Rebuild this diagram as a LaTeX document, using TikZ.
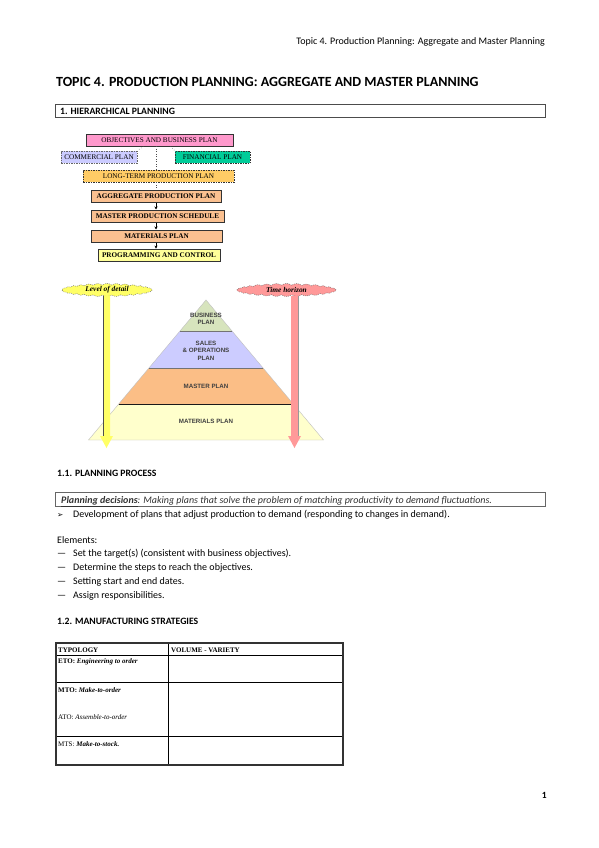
\documentclass[tikz,border=0pt]{standalone}
\usepackage{fontspec}
\setmainfont{Carlito}
\newfontfamily\tms{Liberation Serif}
\newfontfamily\arl{Liberation Sans}
\newfontfamily\djv{DejaVu Sans}
\usetikzlibrary{shapes.symbols,arrows.meta,calc}
\definecolor{objpink}{HTML}{FF99CC}
\definecolor{comlav}{HTML}{CCCCFF}
\definecolor{finteal}{HTML}{00CC99}
\definecolor{ltorange}{HTML}{FFCC66}
\definecolor{peach}{HTML}{FAC090}
\definecolor{progyel}{HTML}{FFFF99}
\definecolor{pygreen}{HTML}{D7E4BD}
\definecolor{pylav}{HTML}{CCCCFF}
\definecolor{pyorange}{HTML}{FBBE86}
\definecolor{pyyel}{HTML}{FFFFCC}
\definecolor{cloudyel}{HTML}{FFFF66}
\definecolor{cloudpink}{HTML}{FF9999}
\tikzset{
  chartbox/.style={draw=black!80, line width=0.6pt, inner sep=0pt, minimum height=12pt,
    font=\tms\fontsize{7.2}{8}\selectfont},
  dashbox/.style={chartbox, dashed, dash pattern=on 1.5pt off 1pt, line width=0.8pt},
  boldbox/.style={chartbox, line width=1pt, fill=peach, font=\tms\bfseries\fontsize{7.2}{8}\selectfont},
  pylabel/.style={font=\arl\bfseries\fontsize{6.2}{7.6}\selectfont, text=black!75, align=center},
  cloudnode/.style={cloud, cloud puffs=30, cloud puff arc=75, aspect=7, inner sep=0pt,
    draw=black!60, dashed, dash pattern=on 1pt off 1pt, font=\tms\bfseries\itshape\fontsize{7.4}{8}\selectfont},
  bodytext/.style={anchor=base west, inner sep=0pt, font=\fontsize{10}{12}\selectfont},
  headtext/.style={anchor=base west, inner sep=0pt, font=\bfseries\fontsize{9.7}{11}\selectfont},
  tabtext/.style={anchor=base west, inner sep=0pt, font=\tms\fontsize{7}{8}\selectfont},
  secbox/.style={draw=black!70, line width=0.7pt, anchor=north west, inner sep=0pt},
  flowarrow/.style={-{Stealth[length=3pt,width=3pt]}, line width=0.5pt},
  dotline/.style={dotted, line width=0.5pt, black!70}
}
\begin{document}
\begin{tikzpicture}[x=1pt,y=-1pt]
\useasboundingbox (0,0) rectangle (599,848);
\fill[white] (0,0) rectangle (599,848);

% header
\node[anchor=base east, inner sep=0pt, font=\fontsize{10}{12}\selectfont] (hdr) at (545,45)
  {Topic 4. Production Planning: Aggregate and Master Planning};
\node[anchor=base west, inner sep=0pt, font=\bfseries\fontsize{14}{16}\selectfont] (title) at (56,87)
  {TOPIC 4. PRODUCTION PLANNING: AGGREGATE AND MASTER PLANNING};

% section box 1
\node[secbox, minimum width=490pt, minimum height=13pt] (sec1) at (55,104) {};
\node[headtext] (sec1t) at (60,114.5) {1. HIERARCHICAL PLANNING};

% hierarchy chart
\node[chartbox, fill=objpink, minimum width=147pt] (obj) at (159.5,140) {OBJECTIVES AND BUSINESS PLAN};
\node[dashbox, fill=comlav, draw=black!60, minimum width=76pt] (com) at (99,157) {COMMERCIAL PLAN};
\node[dashbox, fill=finteal, minimum width=75pt] (fin) at (212.5,157) {FINANCIAL PLAN};
\node[dashbox, fill=ltorange, minimum width=151pt] (lt) at (158.5,176) {LONG-TERM PRODUCTION PLAN};
\node[boldbox, minimum width=130pt] (agg) at (156,196) {AGGREGATE PRODUCTION PLAN};
\node[boldbox, minimum width=133pt] (mps) at (157.5,216) {MASTER PRODUCTION SCHEDULE};
\node[boldbox, minimum width=131pt] (mat) at (156.5,236) {MATERIALS PLAN};
\node[chartbox, fill=progyel, line width=0.8pt, font=\tms\bfseries\fontsize{7.2}{8}\selectfont, minimum width=122pt] (prog) at (159,255) {PROGRAMMING AND CONTROL};

\draw[dotline] ($(obj.south)+(-16,0)$) -- (com.north east);
\draw[dotline] ($(obj.south)+(11,0)$) -- (fin.north west);
\draw[dotline] (obj.south -| agg.north) -- (lt.north -| agg.north);
\draw[dotline] (lt.south -| agg.north) -- (agg.north);
\draw[flowarrow] (agg.south) -- (mps.north -| agg.south);
\draw[flowarrow] (mps.south -| agg.south) -- (mat.north -| agg.south);
\draw[flowarrow] (mat.south -| agg.south) -- (prog.north -| agg.south);

% pyramid
\fill[pygreen] (206,300) -- (232,331) -- (180,331) -- cycle;
\fill[pylav] (180,331) -- (232,331) -- (263,368) -- (149,368) -- cycle;
\fill[pyorange] (149,368) -- (263,368) -- (293.3,404) -- (118.7,404) -- cycle;
\fill[pyyel] (118.7,404) -- (293.3,404) -- (323.5,440) -- (88.5,440) -- cycle;
\draw[black!25, line width=0.4pt] (206,300) -- (323.5,440) -- (88.5,440) -- cycle;
\draw[black!55, line width=0.5pt] (180,331) -- (232,331);
\draw[black!55, line width=0.5pt] (149,368) -- (263,368);
\draw[black!90, line width=0.8pt] (118.7,404) -- (293.3,404);
\node[pylabel] (pb) at (206,319) {BUSINESS\\PLAN};
\node[pylabel] (ps) at (206,350.5) {SALES\\\& OPERATIONS\\PLAN};
\node[pylabel] (pm) at (206,386.5) {MASTER PLAN};
\node[pylabel] (pt) at (206,421.5) {MATERIALS PLAN};

% clouds and arrows
\node[cloudnode, fill=cloudyel, minimum width=90pt, minimum height=13pt] (cy) at (107,290) {Level of detail};
\node[cloudnode, fill=cloudpink, minimum width=99pt, minimum height=13pt] (cp) at (286.5,290) {Time horizon};
\coordinate (cyend) at (106.5,448);
\coordinate (cpend) at (294.5,448);
\fill[cloudyel] (103,296) -- (110,296) -- (110,436) -- (113,436) -- (106.5,448) -- (100,436) -- (103,436) -- cycle;
\draw[black!70, line width=0.6pt] (103,296) -- (103,436);
\fill[cloudpink] (291,296) -- (298,296) -- (298,436) -- (301,436) -- (294.5,448) -- (288,436) -- (291,436) -- cycle;
\draw[black!40, line width=0.4pt] (298,296) -- (298,436);

% 1.1
\node[headtext] (s11) at (57,476) {1.1. PLANNING PROCESS};
\node[secbox, minimum width=490pt, minimum height=14pt, draw=black!60] (pdbox) at (55,492) {};
\node[bodytext, text=black!80, font=\itshape\fontsize{10}{12}\selectfont] (pdt) at (61,503)
  {\underline{\textbf{Planning decisions}}: Making plans that solve the problem of matching productivity to demand fluctuations.};
\node[anchor=base west, inner sep=0pt, font=\djv\fontsize{7.5}{9}\selectfont] (bul) at (57,517) {➢};
\node[bodytext] (dev) at (73,517) {Development of plans that adjust production to demand (responding to changes in demand).};
\node[bodytext] (el) at (57,543) {Elements:};
\node[bodytext] (d1) at (57,556) {—};
\node[bodytext] (e1) at (73,556) {Set the target(s) (consistent with business objectives).};
\node[bodytext] (d2) at (57,570) {—};
\node[bodytext] (e2) at (73,570) {Determine the steps to reach the objectives.};
\node[bodytext] (d3) at (57,584) {—};
\node[bodytext] (e3) at (73,584) {Setting start and end dates.};
\node[bodytext] (d4) at (57,598) {—};
\node[bodytext] (e4) at (73,598) {Assign responsibilities.};
\node[headtext] (s12) at (57,624) {1.2. MANUFACTURING STRATEGIES};

% table
\draw[line width=0.5pt] (56,655) -- (343,655);
\draw[line width=0.5pt] (56,682) -- (343,682);
\draw[line width=0.5pt] (56,736) -- (343,736);
\draw[line width=0.5pt] (168,643) -- (168,765);
\draw[line width=1.2pt, black!80] (56,643) rectangle (343,765);
\node[tabtext, font=\tms\bfseries\fontsize{7}{8}\selectfont] (th1) at (58,652) {TYPOLOGY};
\node[tabtext, font=\tms\bfseries\fontsize{7}{8}\selectfont] (th2) at (171,652) {VOLUME - VARIETY};
\node[tabtext] (eto) at (58,663) {\textbf{ETO: \textit{Engineering to order}}};
\node[tabtext] (mto) at (58,692) {\textbf{MTO: \textit{Make-to-order}}};
\node[tabtext] (ato) at (58,719) {ATO: \textit{Assemble-to-order}};
\node[tabtext] (mts) at (58,746) {MTS: \textbf{\textit{Make-to-stock.}}};

% page number
\node[anchor=base east, inner sep=0pt, font=\bfseries\fontsize{9.5}{10}\selectfont] (pg) at (547,798) {1};
\end{tikzpicture}
\end{document}
